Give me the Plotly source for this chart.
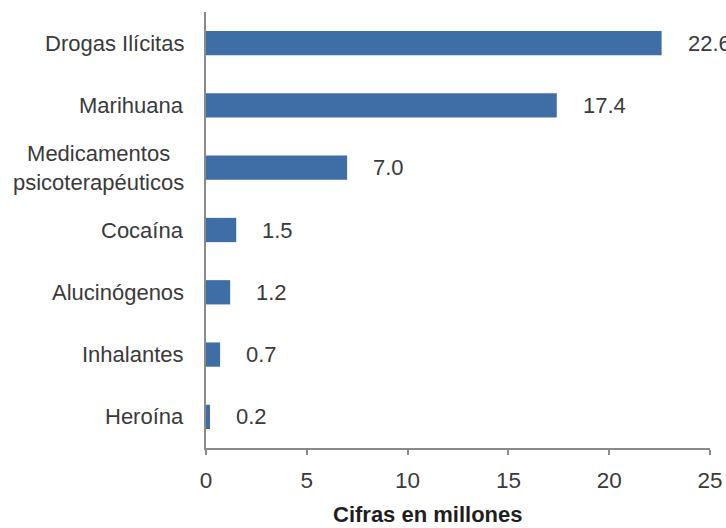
import plotly.graph_objects as go

# Data: millions of people by substance
categories = [
    "Drogas Ilícitas",
    "Marihuana",
    "Medicamentos<br>psicoterapéuticos",
    "Cocaína",
    "Alucinógenos",
    "Inhalantes",
    "Heroína",
]
values = [22.6, 17.4, 7.0, 1.5, 1.2, 0.7, 0.2]
x_ticks = [0, 5, 10, 15, 20, 25]
x_title = "Cifras en millones"

FONT = "Liberation Sans, Arial, sans-serif"
TEXT_COLOR = "#3a3a3a"
AXIS_COLOR = "#8a8a8a"
BAR_COLOR = "#3f6ea6"

fig = go.Figure(
    go.Bar(
        x=values,
        y=categories,
        orientation="h",
        marker=dict(color=BAR_COLOR, line=dict(width=0)),
        width=0.39,
        hoverinfo="skip",
    )
)

annotations = []

# Value labels to the right of each bar
for cat, val in zip(categories, values):
    annotations.append(
        dict(
            x=val, y=cat, xref="x", yref="y",
            text=f"{val:.1f}", showarrow=False,
            xanchor="left", yanchor="middle", xshift=24,
            font=dict(family=FONT, size=22, color=TEXT_COLOR),
        )
    )

# Category labels, multi-line ones centred within their block
for cat in categories:
    annotations.append(
        dict(
            x=0, y=cat, xref="paper", yref="y",
            text=cat, showarrow=False, align="center",
            xanchor="right", yanchor="middle", xshift=-20,
            font=dict(family=FONT, size=22, color=TEXT_COLOR),
        )
    )

# Axis title
annotations.append(
    dict(
        x=0.44, y=0, xref="paper", yref="paper",
        text=f"<b>{x_title}</b>", showarrow=False,
        xanchor="center", yanchor="middle", yshift=-66,
        font=dict(family=FONT, size=22, color="#1e1e1e"),
    )
)

fig.update_layout(
    width=726,
    height=528,
    margin=dict(l=206, r=16, t=12, b=80, pad=0),
    paper_bgcolor="white",
    plot_bgcolor="white",
    showlegend=False,
    annotations=annotations,
    xaxis=dict(
        range=[0, 25],
        tickvals=x_ticks,
        ticktext=[str(t) for t in x_ticks],
        automargin=False,
        showgrid=False,
        zeroline=False,
        showline=True,
        linecolor=AXIS_COLOR,
        linewidth=2,
        ticks="outside",
        ticklen=5,
        tickwidth=2,
        tickcolor=AXIS_COLOR,
        ticklabelstandoff=6,
        tickfont=dict(family=FONT, size=22.5, color=TEXT_COLOR),
    ),
    yaxis=dict(
        categoryorder="array",
        categoryarray=categories[::-1],
        range=[-0.5, len(categories) - 0.5],
        automargin=False,
        showgrid=False,
        zeroline=False,
        showline=True,
        linecolor=AXIS_COLOR,
        linewidth=2,
        ticks="",
        showticklabels=False,
    ),
)

fig.write_html("out.html")
